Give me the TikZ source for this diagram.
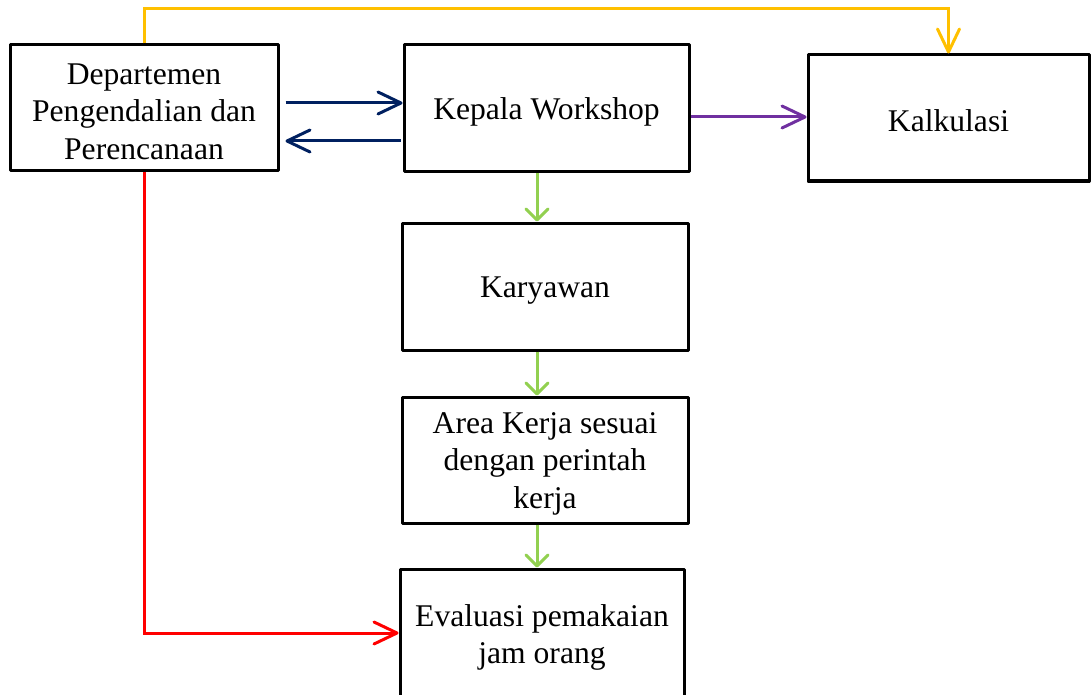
\documentclass[tikz,border=0pt]{standalone}
\usepackage{fontspec}
\setmainfont{Liberation Serif}
\usetikzlibrary{arrows.meta}
\definecolor{navyline}{HTML}{002060}
\definecolor{purpleline}{HTML}{7030A0}
\definecolor{goldline}{HTML}{FFC000}
\definecolor{redline}{HTML}{FF0000}
\definecolor{greenline}{HTML}{92D050}
% taller first line, so the text sits a little low in its box
\newcommand\boxlift{\rule{0pt}{28pt}}
\begin{document}
\begin{tikzpicture}[x=1pt,y=-1pt,
  box/.style={draw=black, line width=3pt, line join=round, fill=white,
    align=center, inner sep=0pt, font=\fontsize{31.6}{37.5}\selectfont},
  link/.style={line width=3pt,
    -{Straight Barb[length=23pt,width=22pt,round]}},
  shortlink/.style={line width=3pt,
    -{Straight Barb[length=11pt,width=22pt,round]}}]
\clip (0,0) rectangle (1091,695);
\useasboundingbox (0,0) rectangle (1091,695);

% boxes
\node[box, minimum width=268pt, minimum height=126pt] (dpp) at (144,108)
  {\boxlift Departemen\\Pengendalian dan\\Perencanaan};
\node[box, minimum width=285pt, minimum height=127pt] (kw) at (546.5,108.5)
  {\boxlift Kepala Workshop};
\node[box, minimum width=281pt, minimum height=126pt] (kal) at (948.5,118)
  {\boxlift Kalkulasi};
\node[box, minimum width=286pt, minimum height=127pt] (kar) at (545,286.5)
  {\boxlift Karyawan};
\node[box, minimum width=286pt, minimum height=126pt] (area) at (545,460)
  {\boxlift Area Kerja sesuai\\dengan perintah\\kerja};
\node[box, minimum width=284pt, minimum height=131pt] (eva) at (542,634.5)
  {\boxlift Evaluasi pemakaian\\jam orang};

% connectors
\draw[link, navyline, shorten <=6pt] (dpp.east |- 0,103) -- (kw.west |- 0,103);
\draw[link, navyline, shorten <=2pt] (kw.west |- 0,141) -- ([xshift=6pt]dpp.east |- 0,141);
\draw[link, purpleline] (kw.east |- 0,117) -- (kal.west |- 0,117);
\draw[link, goldline] (dpp.north) -- ++(0,-35) -| (kal.north);
\draw[link, redline] (dpp.south) |- (eva.west |- 0,633);
\draw[shortlink, greenline] (kw.south -| 537,0) -- (kar.north -| 537,0);
\draw[shortlink, greenline] (kar.south -| 537,0) -- (area.north -| 537,0);
\draw[shortlink, greenline] (area.south -| 537,0) -- (eva.north -| 537,0);
\end{tikzpicture}
\end{document}
